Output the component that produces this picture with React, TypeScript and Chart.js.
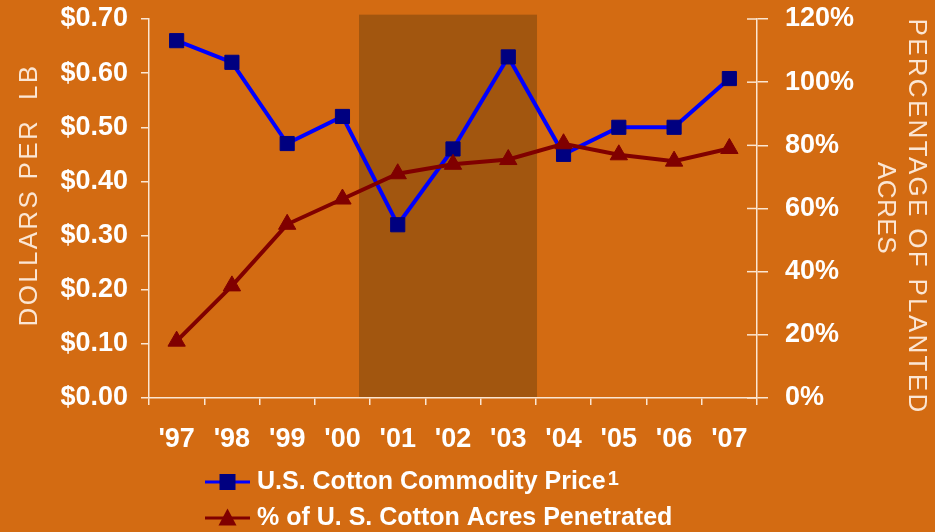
import React, { useEffect, useRef } from 'react';
import { Chart, registerables } from 'chart.js';

Chart.register(...registerables);

// ---- data ----
const YEARS = ["'97", "'98", "'99", "'00", "'01", "'02", "'03", "'04", "'05", "'06", "'07"];
const PRICE = [0.66, 0.62, 0.47, 0.52, 0.32, 0.46, 0.63, 0.45, 0.5, 0.5, 0.59];
const PENETRATION = [18, 35.5, 55, 63, 71, 74, 75.5, 80.5, 77, 75, 79];
const PRICE_AXIS = [0, 0.7, 0.1]; // min, max, step
const PCT_AXIS = [0, 120, 20]; // min, max, step
const SHADE_RANGE = [3.3, 6.52]; // category index range of the shaded period
const SHADE_TOP = 0.708;
const SERIES_LABELS = ['U.S. Cotton Commodity Price', '% of U. S. Cotton Acres Penetrated'];
const FOOTNOTE_MARK = '1';
const LEFT_TITLE = 'DOLLARS PER  LB';
const RIGHT_TITLE = ['PERCENTAGE OF PLANTED', 'ACRES'];

// ---- styles ----
const BG = '#D36B12';
const SHADE = '#A2560F';
const AXIS = '#FBE6D2';
const TITLE_COLOR = '#FBE6D4';
const BLUE = '#0000FF';
const NAVY = '#000080';
const MAROON = '#800000';
const FONT = "'Liberation Sans', Arial, Helvetica, sans-serif";

const decor = {
  id: 'decor',
  beforeDraw(chart: any) {
    const { ctx, width, height, scales } = chart;
    ctx.save();
    ctx.fillStyle = BG;
    ctx.fillRect(0, 0, width, height);
    const x = scales.x;
    const y = scales.y;
    const x0 = x.getPixelForValue(SHADE_RANGE[0]);
    const x1 = x.getPixelForValue(SHADE_RANGE[1]);
    const yt = y.getPixelForValue(SHADE_TOP);
    const yb = y.getPixelForValue(0);
    ctx.fillStyle = SHADE;
    ctx.fillRect(x0, yt, x1 - x0, yb - yt);
    ctx.restore();
  },
  afterDraw(chart: any) {
    const { ctx, width, scales, chartArea } = chart;
    ctx.save();
    // inner half of the right axis tick marks
    const y1 = scales.y1;
    ctx.strokeStyle = AXIS;
    ctx.lineWidth = 1.5;
    y1.ticks.forEach((t: any) => {
      const py = y1.getPixelForValue(t.value);
      ctx.beginPath();
      ctx.moveTo(chartArea.right - 10, py);
      ctx.lineTo(chartArea.right, py);
      ctx.stroke();
    });

    // axis titles
    ctx.fillStyle = TITLE_COLOR;
    ctx.font = `normal 26px ${FONT}`;
    ctx.textAlign = 'center';
    ctx.textBaseline = 'alphabetic';
    (ctx as any).letterSpacing = '2.3px';
    ctx.save();
    ctx.translate(37, 195);
    ctx.rotate(-Math.PI / 2);
    ctx.fillText(LEFT_TITLE, 0, 0);
    ctx.restore();

    ctx.save();
    ctx.translate(width - 26, 216.5);
    ctx.rotate(Math.PI / 2);
    ctx.fillText(RIGHT_TITLE[0], 0, 0);
    ctx.restore();

    (ctx as any).letterSpacing = '0.5px';
    ctx.save();
    ctx.translate(width - 57, 208);
    ctx.rotate(Math.PI / 2);
    ctx.fillText(RIGHT_TITLE[1], 0, 0);
    ctx.restore();
    (ctx as any).letterSpacing = '0px';

    // legend
    const rows = [482, 518];
    const lx0 = 205;
    const lx1 = 250;
    const mx = 227.5;
    const tx = 257;
    chart.data.datasets.forEach((ds: any, i: number) => {
      const ry = rows[i];
      ctx.strokeStyle = ds.borderColor;
      ctx.lineWidth = 3;
      ctx.beginPath();
      ctx.moveTo(lx0, ry);
      ctx.lineTo(lx1, ry);
      ctx.stroke();
      ctx.fillStyle = ds.pointBackgroundColor;
      if (ds.pointStyle === 'rect') {
        ctx.fillRect(mx - 8, ry - 8, 16, 16);
      } else {
        ctx.beginPath();
        ctx.moveTo(mx, ry - 9.5);
        ctx.lineTo(mx + 9, ry + 7.5);
        ctx.lineTo(mx - 9, ry + 7.5);
        ctx.closePath();
        ctx.fill();
      }
      ctx.fillStyle = '#FFFFFF';
      ctx.font = `bold 25px ${FONT}`;
      ctx.textAlign = 'left';
      ctx.textBaseline = 'middle';
      ctx.fillText(ds.label, tx, ry);
      if (i === 0) {
        const w = ctx.measureText(ds.label).width;
        ctx.font = `bold 20px ${FONT}`;
        ctx.textBaseline = 'alphabetic';
        ctx.fillText(FOOTNOTE_MARK, tx + w + 2, ry + 3);
      }
    });
    ctx.restore();
  },
};

export default function App() {
  const ref = useRef<HTMLCanvasElement | null>(null);

  useEffect(() => {
    document.body.style.margin = '0';
    if (!ref.current) return;
    const tickFont = { family: FONT, size: 27, weight: 'bold' as const };
    const chart = new Chart(ref.current, {
      type: 'line',
      data: {
        labels: YEARS,
        datasets: [
          {
            label: SERIES_LABELS[0],
            data: PRICE,
            yAxisID: 'y',
            borderColor: BLUE,
            borderWidth: 4,
            pointStyle: 'rect',
            pointRadius: 10,
            pointHoverRadius: 10,
            pointBackgroundColor: NAVY,
            pointBorderColor: NAVY,
            pointBorderWidth: 1,
            tension: 0,
            order: 1,
          },
          {
            label: SERIES_LABELS[1],
            data: PENETRATION,
            yAxisID: 'y1',
            borderColor: MAROON,
            borderWidth: 4,
            pointStyle: 'triangle',
            pointRadius: 10,
            pointHoverRadius: 10,
            pointBackgroundColor: MAROON,
            pointBorderColor: MAROON,
            pointBorderWidth: 1,
            tension: 0,
            order: 0,
          },
        ],
      },
      options: {
        responsive: false,
        animation: false,
        devicePixelRatio: 1,
        layout: { padding: { top: 19, left: 0, right: 0, bottom: 0 } },
        plugins: {
          legend: { display: false },
          tooltip: { enabled: false },
          title: { display: false },
        },
        events: [],
        scales: {
          x: {
            type: 'category',
            offset: true,
            grid: {
              offset: true,
              drawOnChartArea: false,
              drawTicks: true,
              tickLength: 7,
              color: AXIS,
              lineWidth: 1.5,
            },
            border: { display: true, color: AXIS, width: 1.5 },
            ticks: {
              color: '#FFFFFF',
              font: tickFont,
              padding: 18,
              autoSkip: false,
              maxRotation: 0,
              minRotation: 0,
            },
            afterFit: (s: any) => {
              s.height = 134;
            },
          },
          y: {
            position: 'left',
            min: PRICE_AXIS[0],
            max: PRICE_AXIS[1],
            grid: {
              drawOnChartArea: false,
              tickLength: 8,
              color: AXIS,
              lineWidth: 1.5,
            },
            border: { display: true, color: AXIS, width: 1.5 },
            ticks: {
              stepSize: PRICE_AXIS[2],
              color: '#FFFFFF',
              font: tickFont,
              padding: 13,
              callback: (v: any) => '$' + Number(v).toFixed(2),
            },
            afterFit: (s: any) => {
              s.width = 149;
              s.paddingTop = 16;
              s.paddingBottom = 16;
            },
          },
          y1: {
            position: 'right',
            min: PCT_AXIS[0],
            max: PCT_AXIS[1],
            grid: {
              drawOnChartArea: false,
              tickLength: 11,
              color: AXIS,
              lineWidth: 1.5,
            },
            border: { display: true, color: AXIS, width: 1.5 },
            ticks: {
              stepSize: PCT_AXIS[2],
              color: '#FFFFFF',
              font: tickFont,
              padding: 17,
              callback: (v: any) => Math.round(Number(v)) + '%',
            },
            afterFit: (s: any) => {
              s.width = 178;
              s.paddingTop = 16;
              s.paddingBottom = 16;
            },
          },
        },
      },
      plugins: [decor],
    });
    return () => chart.destroy();
  }, []);

  return (
    <div style={{ position: 'absolute', left: 0, top: 0, width: 935, height: 532, background: BG }}>
      <canvas ref={ref} width={935} height={532} style={{ display: 'block' }} />
    </div>
  );
}
